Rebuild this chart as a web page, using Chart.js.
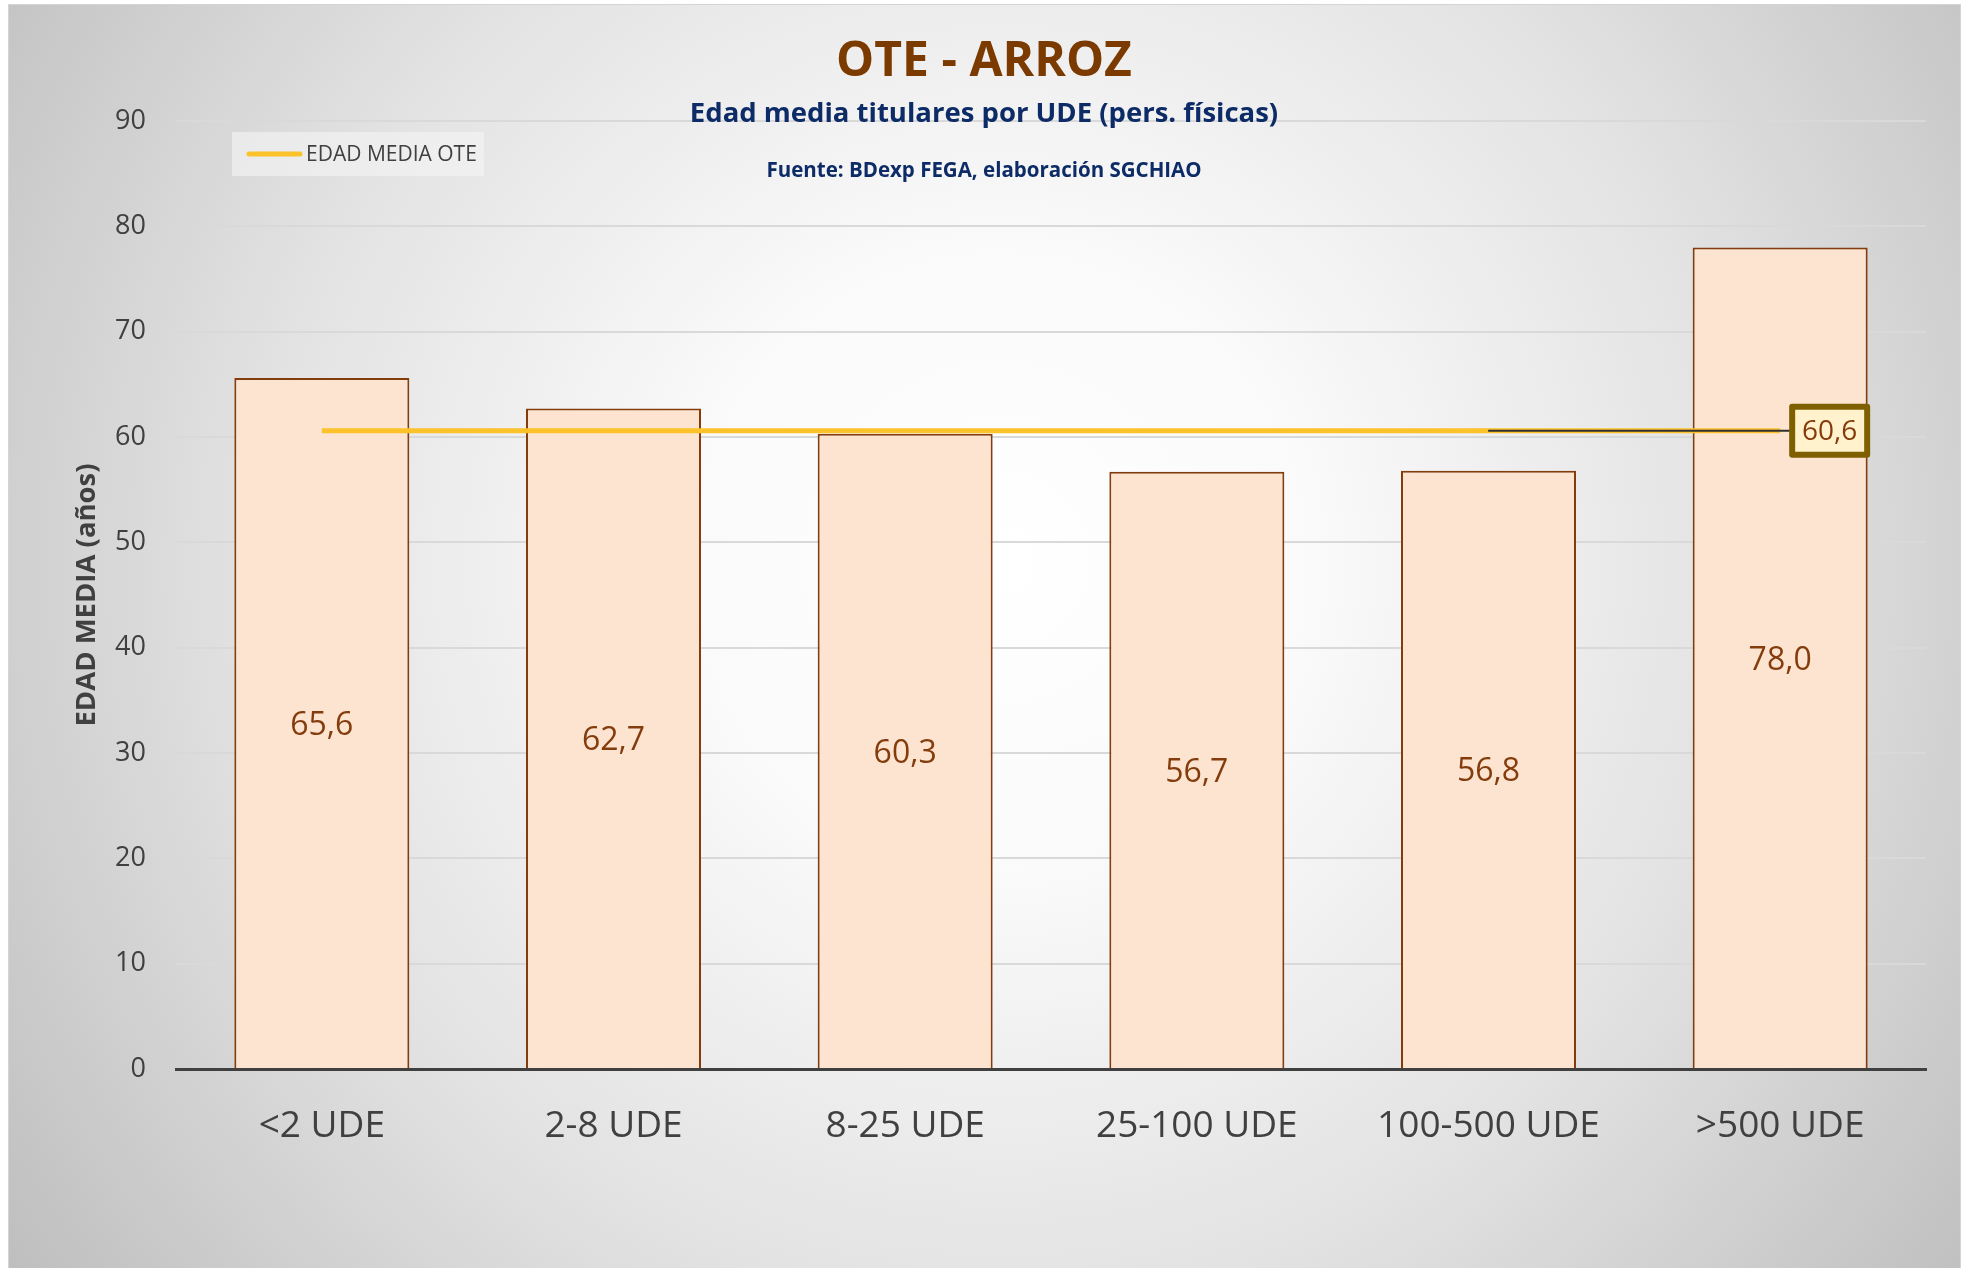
<!DOCTYPE html>
<html lang="es">
<head>
<meta charset="utf-8">
<title>OTE - ARROZ</title>
<script src="https://cdn.jsdelivr.net/npm/chart.js@4.4.1/dist/chart.umd.min.js"></script>
<style>
    html, body { margin: 0; padding: 0; background: #ffffff; }
    #wrap { position: relative; width: 1970px; height: 1268px; }
</style>
</head>
<body>
<div id="wrap"><canvas id="grafico"></canvas></div>
<script>
// Datos del gráfico
const categorias = ['<2 UDE', '2-8 UDE', '8-25 UDE', '25-100 UDE', '100-500 UDE', '>500 UDE'];
const edadMedia = [65.6, 62.7, 60.3, 56.7, 56.8, 78.0];
const edadMediaOte = [60.6, 60.6, 60.6, 60.6, 60.6, 60.6];
const ejeYMin = 0;
const ejeYMax = 90;
const ejeYPaso = 10;

const FUENTE = '"Open Sans", "Noto Sans", sans-serif';
const MARRON = '#843C0C';

function formatoEs(v) {
    return v.toFixed(1).replace('.', ',');
}

// Fondo con degradado radial
const fondoPlugin = {
    id: 'fondo',
    beforeDraw(chart) {
        const ctx = chart.ctx;
        ctx.save();
        ctx.fillStyle = '#ffffff';
        ctx.fillRect(0, 0, chart.width, chart.height);
        const g = ctx.createRadialGradient(1000, 560, 0, 1000, 560, 1250);
        g.addColorStop(0, '#ffffff');
        g.addColorStop(0.25, '#fafafa');
        g.addColorStop(0.6, '#e2e2e2');
        g.addColorStop(1, '#bcbcbc');
        ctx.fillStyle = g;
        ctx.fillRect(9, 5, 1951, 1263);
        ctx.strokeStyle = '#d4d4d4';
        ctx.lineWidth = 1;
        ctx.strokeRect(8.5, 4.5, 1952, 1270);
        ctx.restore();
    }
};

// Títulos
const titulosPlugin = {
    id: 'titulos',
    afterDraw(chart) {
        const ctx = chart.ctx;
        ctx.save();
        ctx.textAlign = 'center';
        ctx.textBaseline = 'middle';
        ctx.fillStyle = '#7B3A00';
        ctx.font = 'bold 48px ' + FUENTE;
        ctx.fillText('OTE - ARROZ', 984, 62);
        ctx.fillStyle = '#0D2B66';
        ctx.font = 'bold 27.5px ' + FUENTE;
        ctx.fillText('Edad media titulares por UDE (pers. físicas)', 984, 114);
        ctx.font = 'bold 20.5px ' + FUENTE;
        ctx.fillText('Fuente: BDexp FEGA, elaboración SGCHIAO', 984, 171);
        ctx.restore();
    }
};

// Leyenda dentro del área de trazado
const leyendaPlugin = {
    id: 'leyenda',
    afterDraw(chart) {
        const ctx = chart.ctx;
        const area = chart.chartArea;
        const ds = chart.data.datasets[1];
        const x = area.left + 56;
        const y = area.top + 11;
        ctx.save();
        ctx.fillStyle = 'rgba(245,245,245,0.6)';
        ctx.fillRect(x, y, 252, 44);
        ctx.strokeStyle = ds.borderColor;
        ctx.lineWidth = 5;
        ctx.lineCap = 'round';
        ctx.beginPath();
        ctx.moveTo(x + 17, y + 22);
        ctx.lineTo(x + 68, y + 22);
        ctx.stroke();
        ctx.fillStyle = '#404040';
        ctx.font = '21px ' + FUENTE;
        ctx.textBaseline = 'middle';
        ctx.fillText(ds.label, x + 74, y + 23);
        ctx.restore();
    }
};

// Etiquetas de datos
const etiquetasPlugin = {
    id: 'etiquetas',
    afterDatasetsDraw(chart) {
        const ctx = chart.ctx;
        ctx.save();
        ctx.textAlign = 'center';
        ctx.textBaseline = 'middle';

        // Barras: valor en el centro
        const metaBarras = chart.getDatasetMeta(0);
        ctx.fillStyle = MARRON;
        ctx.font = '32px ' + FUENTE;
        metaBarras.data.forEach((bar, i) => {
            const yc = (bar.y + bar.base) / 2;
            ctx.fillText(formatoEs(edadMedia[i]), bar.x, yc + 3);
        });

        // Línea: etiqueta en el último punto
        const metaLinea = chart.getDatasetMeta(1);
        const ultimo = metaLinea.data[metaLinea.data.length - 1];
        const i = edadMediaOte.length - 1;
        const bx = ultimo.x + 12;
        const bw = 75;
        const bh = 48;
        const by = ultimo.y - bh / 2;

        ctx.strokeStyle = '#303030';
        ctx.lineWidth = 2;
        ctx.beginPath();
        ctx.moveTo(ultimo.x - 292, ultimo.y);
        ctx.lineTo(bx, ultimo.y);
        ctx.stroke();

        ctx.fillStyle = '#FFF2CC';
        ctx.fillRect(bx, by, bw, bh);
        ctx.strokeStyle = '#7F6000';
        ctx.lineWidth = 6;
        ctx.lineJoin = 'round';
        ctx.strokeRect(bx, by, bw, bh);
        ctx.fillStyle = MARRON;
        ctx.font = '28px ' + FUENTE;
        ctx.fillText(formatoEs(edadMediaOte[i]), bx + bw / 2, ultimo.y + 1);
        ctx.restore();
    }
};

const ctx = document.getElementById('grafico');

const chart = new Chart(ctx, {
    type: 'bar',
    data: {
        labels: categorias,
        datasets: [{
            type: 'bar',
            label: 'EDAD MEDIA',
            data: edadMedia,
            backgroundColor: '#FCE4D0',
            borderColor: MARRON,
            borderWidth: 2,
            borderSkipped: 'bottom',
            categoryPercentage: 1.0,
            barPercentage: 0.6,
            order: 2
        }, {
            type: 'line',
            label: 'EDAD MEDIA OTE',
            data: edadMediaOte,
            borderColor: '#FCC22A',
            borderWidth: 5,
            pointRadius: 0,
            fill: false,
            tension: 0,
            order: 1
        }]
    },
    options: {
        responsive: true,
        maintainAspectRatio: false,
        animation: false,
        layout: {
            padding: { left: 0, right: 44, top: 121, bottom: 0 }
        },
        plugins: {
            legend: { display: false },
            title: { display: false },
            tooltip: { enabled: false }
        },
        scales: {
            x: {
                grid: { display: false },
                border: { display: true, color: '#404040', width: 3 },
                ticks: {
                    color: '#404040',
                    font: { family: FUENTE, size: 37 },
                    padding: 27,
                    maxRotation: 0
                },
                afterFit(scale) {
                    scale.height = 199;
                }
            },
            y: {
                min: ejeYMin,
                max: ejeYMax,
                grid: {
                    color: '#d9d9d9',
                    lineWidth: 2,
                    drawTicks: false
                },
                border: { display: false },
                ticks: {
                    stepSize: ejeYPaso,
                    color: '#404040',
                    font: { family: FUENTE, size: 27 },
                    padding: 30
                },
                title: {
                    display: true,
                    text: 'EDAD MEDIA (años)',
                    color: '#404040',
                    font: { family: FUENTE, size: 27.5, weight: 'bold' },
                    padding: { top: 71, bottom: 0 }
                },
                afterFit(scale) {
                    scale.width = 176;
                }
            }
        }
    },
    plugins: [fondoPlugin, titulosPlugin, leyendaPlugin, etiquetasPlugin]
});
</script>
</body>
</html>
